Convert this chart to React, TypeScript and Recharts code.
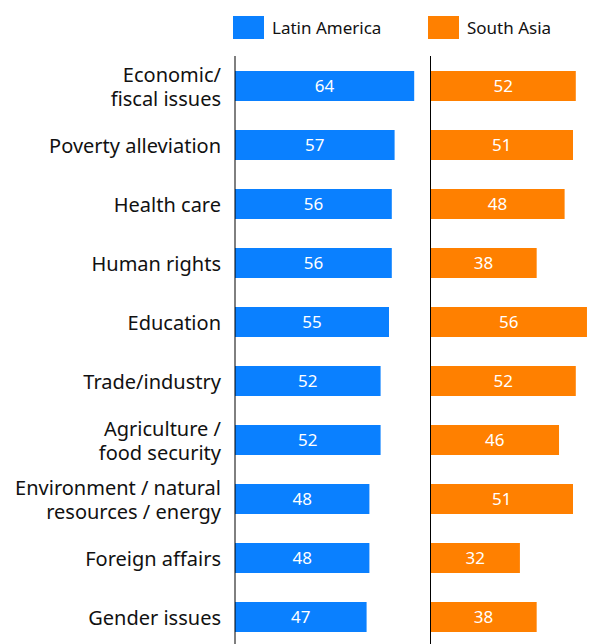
import React from "react";
import { BarChart, Bar, XAxis, YAxis, LabelList } from "recharts";

const categories = [
  "Economic/\nfiscal issues",
  "Poverty alleviation",
  "Health care",
  "Human rights",
  "Education",
  "Trade/industry",
  "Agriculture /\nfood security",
  "Environment / natural\nresources / energy",
  "Foreign affairs",
  "Gender issues",
];
const latinAmerica = [64, 57, 56, 56, 55, 52, 52, 48, 48, 47];
const southAsia = [52, 51, 48, 38, 56, 52, 46, 51, 32, 38];
const seriesNames = ["Latin America", "South Asia"];
const colors = ["#0A80FF", "#FF8000"];

const data = categories.map((c, i) => ({
  category: c,
  la: latinAmerica[i],
  sa: southAsia[i],
}));

const FONT = "'Noto Sans', sans-serif";

const CategoryTick = (props: any) => {
  const { x, y, payload } = props;
  const lines = String(payload.value).split("\n");
  const lh = 24;
  const startY = y - ((lines.length - 1) * lh) / 2;
  return (
    <text
      x={x}
      y={startY}
      textAnchor="end"
      fontFamily={FONT}
      fontSize={20}
      fill="#111"
      dominantBaseline="central"
    >
      {lines.map((l, i) => (
        <tspan key={i} x={x} y={startY + i * lh} dominantBaseline="central">
          {l}
        </tspan>
      ))}
    </text>
  );
};

const TOP = 56;
const CH = 664;
const BOTTOM = CH - 646;

export default function App() {
  return (
    <div
      style={{
        position: "absolute",
        left: 0,
        top: 0,
        width: 611,
        height: 644,
        overflow: "hidden",
        background: "#fff",
      }}
    >
      {/* Legend */}
      {seriesNames.map((n, i) => (
        <div
          key={n}
          style={{
            position: "absolute",
            left: i === 0 ? 233 : 428,
            top: 16,
            display: "flex",
            alignItems: "center",
            fontFamily: FONT,
            fontSize: 17,
            color: "#111",
          }}
        >
          <div style={{ width: 31, height: 23, background: colors[i], marginRight: 8 }} />
          <span>{n}</span>
        </div>
      ))}
      <div style={{ position: "absolute", left: 0, top: 0 }}>
        <BarChart
          width={431}
          height={CH}
          data={data}
          layout="vertical"
          margin={{ top: TOP, right: 0, bottom: BOTTOM, left: 0 }}
          barSize={30}
        >
          <XAxis type="number" domain={[0, 70]} hide />
          <YAxis
            type="category"
            dataKey="category"
            width={235}
            axisLine={{ stroke: "#000", strokeWidth: 1 }}
            tickLine={false}
            tickMargin={8}
            tick={<CategoryTick />}
            interval={0}
          />
          <Bar dataKey="la" fill={colors[0]} isAnimationActive={false}>
            <LabelList
              dataKey="la"
              position="center"
              fill="#fff"
              fontSize={17}
              fontFamily={FONT}
            />
          </Bar>
        </BarChart>
      </div>
      <div style={{ position: "absolute", left: 430, top: 0 }}>
        <BarChart
          width={181}
          height={CH}
          data={data}
          layout="vertical"
          margin={{ top: TOP, right: 0, bottom: BOTTOM, left: 0 }}
          barSize={30}
        >
          <XAxis type="number" domain={[0, 64.6]} hide allowDataOverflow />
          <YAxis
            type="category"
            dataKey="category"
            width={0.5}
            axisLine={{ stroke: "#000", strokeWidth: 1 }}
            tickLine={false}
            tick={false}
          />
          <Bar dataKey="sa" fill={colors[1]} isAnimationActive={false}>
            <LabelList
              dataKey="sa"
              position="center"
              fill="#fff"
              fontSize={17}
              fontFamily={FONT}
            />
          </Bar>
        </BarChart>
      </div>
    </div>
  );
}
